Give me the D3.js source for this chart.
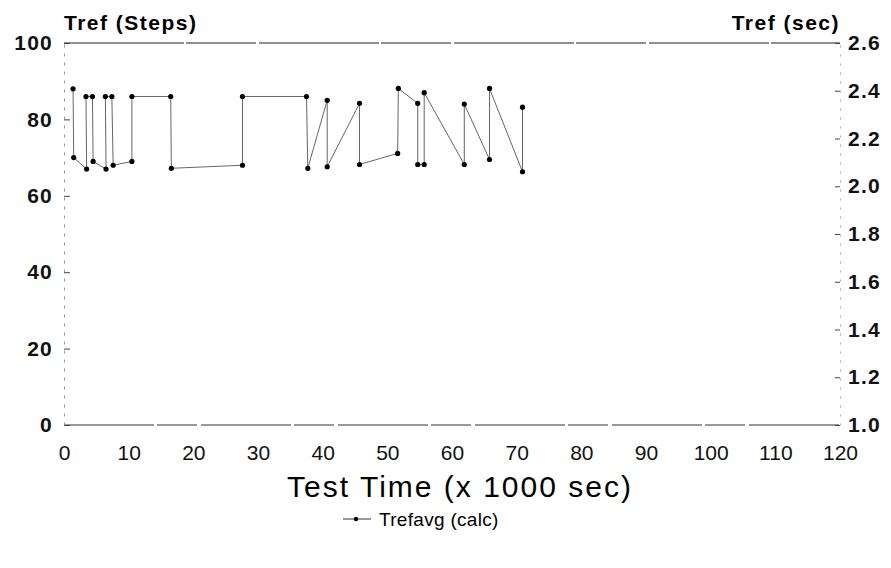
<!DOCTYPE html>
<html>
<head>
<meta charset="utf-8">
<script src="https://cdn.jsdelivr.net/npm/d3@7"></script>
<style>
  body { margin: 0; background: #fff; }
  svg { font-family: "Liberation Sans", Arial, sans-serif; }
  .tickL text, .tickR text { font-size: 21px; font-weight: bold; fill: #111; letter-spacing: 1.2px; }
  .tickB text { font-size: 21px; fill: #111; font-family: "Liberation Sans Narrow", "Liberation Sans", sans-serif; }
</style>
</head>
<body>
<script>
// Set up size
var width = 891;
var height = 568;

// Data: test time (x 1000 sec) and Trefavg (steps)
var timeK = [1.4, 1.5, 3.5, 3.4, 4.4, 4.5, 6.5, 6.4, 7.4, 7.6, 10.5, 10.5, 16.5, 16.6,
             27.6, 27.6, 37.5, 37.7, 40.7, 40.7, 45.7, 45.7, 51.6, 51.7, 54.7, 54.7,
             55.7, 55.7, 61.9, 61.9, 65.8, 65.8, 70.9, 70.9];
var trefSteps = [88, 70, 67, 86, 86, 69, 67, 86, 86, 68, 69, 86, 86, 67.2,
                 68, 86, 86, 67.2, 85, 67.6, 84.2, 68.2, 71.1, 88.1, 84.2, 68.2,
                 68.2, 87, 68.2, 84, 69.5, 88.1, 66.3, 83.2];
var xTicks = [0, 10, 20, 30, 40, 50, 60, 70, 80, 90, 100, 110, 120];
var leftTicks = [0, 20, 40, 60, 80, 100];
var rightTicks = [1.0, 1.2, 1.4, 1.6, 1.8, 2.0, 2.2, 2.4, 2.6];

var data = timeK.map(function (t, i) { return {t: t, v: trefSteps[i]}; });

// plot box
var plotLeft = 64, plotRight = 840, plotTop = 43, plotBottom = 425;

var x = d3.scaleLinear().domain([0, 120]).range([plotLeft, plotRight]);
var yL = d3.scaleLinear().domain([0, 100]).range([plotBottom, plotTop]);
var yR = d3.scaleLinear().domain([1.0, 2.6]).range([plotBottom, plotTop]);

var svg = d3.select('body').append('svg')
  .attr('width', width)
  .attr('height', height);

// frame top and bottom (scanned look, small breaks)
svg.append('line')
  .attr('x1', plotLeft).attr('x2', plotRight).attr('y1', plotTop).attr('y2', plotTop)
  .attr('stroke', '#222').attr('stroke-width', 1.2)
  .attr('stroke-dasharray', '120,2,70,3');
svg.append('line')
  .attr('x1', plotLeft).attr('x2', plotRight).attr('y1', plotBottom).attr('y2', plotBottom)
  .attr('stroke', '#333').attr('stroke-width', 1)
  .attr('stroke-dasharray', '90,3,40,4');

// left axis, ticks pointing inward
var gL = svg.append('g')
  .attr('class', 'tickL')
  .attr('transform', 'translate(' + plotLeft + ',0)')
  .call(d3.axisLeft(yL).tickValues(leftTicks).tickSizeInner(-6).tickSizeOuter(0).tickPadding(11));
gL.select('.domain').attr('stroke', '#999').attr('stroke-dasharray', '3,6');
gL.selectAll('.tick line').attr('stroke', '#444');

// right axis
var gR = svg.append('g')
  .attr('class', 'tickR')
  .attr('transform', 'translate(' + plotRight + ',0)')
  .call(d3.axisRight(yR).tickValues(rightTicks).tickFormat(d3.format('.1f'))
    .tickSizeInner(-5).tickSizeOuter(0).tickPadding(8));
gR.select('.domain').attr('stroke', '#aaa').attr('stroke-dasharray', '2,7');
gR.selectAll('.tick line').attr('stroke', '#444');

// bottom axis labels
var gB = svg.append('g')
  .attr('class', 'tickB')
  .attr('transform', 'translate(0,' + plotBottom + ')')
  .call(d3.axisBottom(x).tickValues(xTicks).tickSize(0).tickPadding(20));
gB.select('.domain').remove();

// axis titles
svg.append('text')
  .attr('x', plotLeft).attr('y', 30)
  .style('font-size', '21px').style('font-weight', 'bold').style('letter-spacing', '1.5px')
  .text('Tref (Steps)');
svg.append('text')
  .attr('x', plotRight).attr('y', 30)
  .attr('text-anchor', 'end')
  .style('font-size', '21px').style('font-weight', 'bold').style('letter-spacing', '1.5px')
  .text('Tref (sec)');
svg.append('text')
  .attr('x', (plotLeft + plotRight) / 2 + 8).attr('y', 497)
  .attr('text-anchor', 'middle')
  .style('font-size', '30px').style('letter-spacing', '2px')
  .text('Test Time (x 1000 sec)');

// series line and points
var line = d3.line()
  .x(function (d) { return x(d.t); })
  .y(function (d) { return yL(d.v); });

svg.append('path')
  .datum(data)
  .attr('d', line)
  .attr('fill', 'none')
  .attr('stroke', '#666')
  .attr('stroke-width', 1);

svg.append('g').selectAll('circle')
  .data(data)
  .enter().append('circle')
  .attr('cx', function (d) { return x(d.t); })
  .attr('cy', function (d) { return yL(d.v); })
  .attr('r', 2.6)
  .attr('fill', '#000');

// legend
var legend = svg.append('g').attr('transform', 'translate(343,519)');
legend.append('line')
  .attr('x1', 0).attr('x2', 28).attr('y1', 0).attr('y2', 0)
  .attr('stroke', '#333').attr('stroke-width', 1);
legend.append('circle')
  .attr('cx', 13).attr('cy', 0).attr('r', 2.2).attr('fill', '#000');
legend.append('text')
  .attr('x', 36).attr('y', 7)
  .style('font-size', '19px').style('letter-spacing', '0.3px')
  .text('Trefavg (calc)');
</script>
</body>
</html>
